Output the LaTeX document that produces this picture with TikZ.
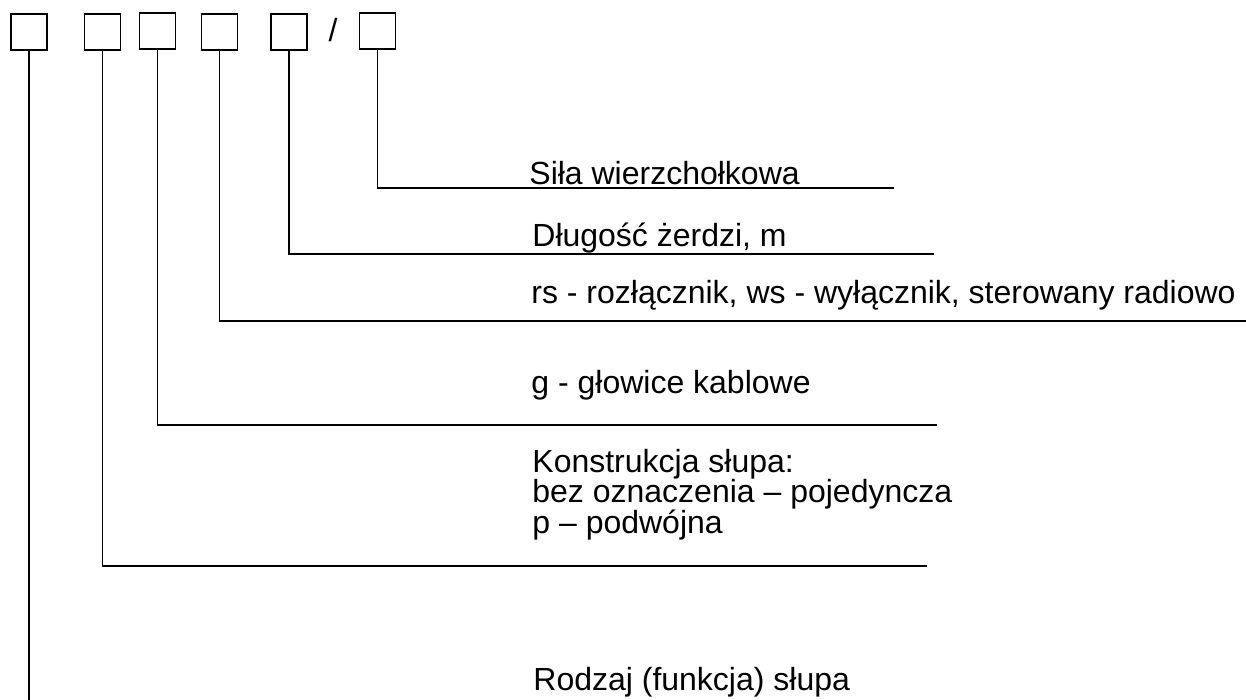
\documentclass[tikz,border=0pt]{standalone}
\usepackage{fontspec}
\setmainfont{Liberation Sans}
\usetikzlibrary{positioning}

\tikzset{
  pole/.style={draw, line width=0.9pt, minimum size=18pt, inner sep=0pt},
  opis/.style={anchor=base west, inner sep=0pt, align=left,
    font=\fontsize{16}{15.25}\selectfont},
  linia/.style={line width=0.75pt}
}

\begin{document}
\begin{tikzpicture}[x=0.5pt,y=-0.5pt]
  \useasboundingbox (0,0) rectangle (1246,700);

  % Pola oznaczenia
  \node[pole] (b1) at (29,32) {};
  \node[pole] (b2) at (102.5,32) {};
  \node[pole] (b3) at (157.5,31) {};
  \node[pole] (b4) at (219.5,32) {};
  \node[pole] (b5) at (289,32) {};
  \node[opis, anchor=center] (kreska) at (333,30) {/};
  \node[pole] (b6) at (377.5,31) {};

  % Konce linii
  \coordinate (e1) at (29,700);
  \coordinate (e2) at (927,566);
  \coordinate (e3) at (937,425);
  \coordinate (e4) at (1246,321);
  \coordinate (e5) at (934,254);
  \coordinate (e6) at (894,188);

  % Linie odniesienia
  \draw[linia] (b1.south) -- (e1);
  \draw[linia] (b2.south) |- (e2);
  \draw[linia] (b3.south) |- (e3);
  \draw[linia] (b4.south) |- (e4);
  \draw[linia] (b5.south) |- (e5);
  \draw[linia] (b6.south) |- (e6);

  % Opisy
  \node[opis] (t6) at (529,185) {Siła wierzchołkowa};
  \node[opis] (t5) at (532,247) {Długość żerdzi, m};
  \node[opis] (t4) at (531,303) {rs - rozłącznik, ws - wyłącznik, sterowany radiowo};
  \node[opis] (t3) at (531,393) {g - głowice kablowe};
  \node[opis] (t2) at (532,533) {Konstrukcja słupa:\\bez oznaczenia – pojedyncza\\p – podwójna};
  \node[opis] (t1) at (533,690) {Rodzaj (funkcja) słupa};
\end{tikzpicture}
\end{document}
